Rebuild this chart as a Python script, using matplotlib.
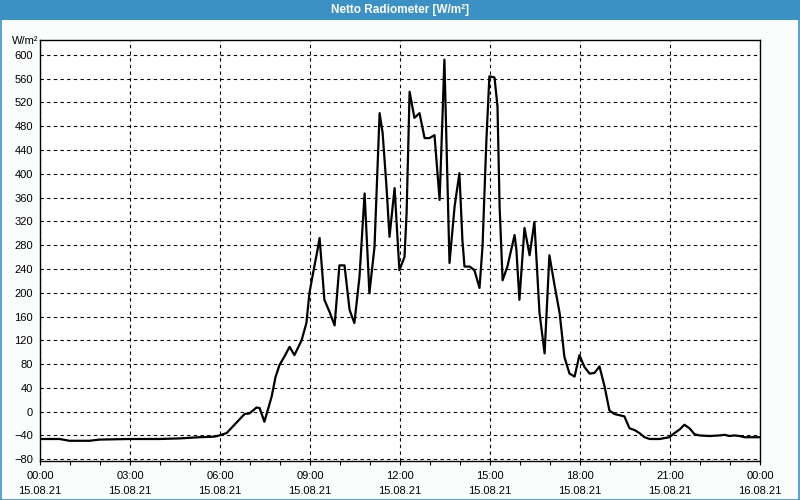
import numpy as np
import matplotlib
matplotlib.use("Agg")
import matplotlib.pyplot as plt
from matplotlib.patches import Rectangle
from matplotlib.ticker import MultipleLocator

# Netto Radiometer, 15.08.21 (hours since midnight, W/m²)
hours = [0.0, 0.65, 0.98, 1.65, 1.98, 2.98, 3.98, 4.65, 5.32, 5.82, 5.98,
         6.22, 6.82, 6.98, 7.22, 7.32, 7.48, 7.72, 7.85, 7.98, 8.15, 8.32,
         8.48, 8.72, 8.88, 8.98, 9.08, 9.25, 9.32, 9.48, 9.65, 9.82, 9.98,
         10.15, 10.32, 10.48, 10.65, 10.82, 10.98, 11.15, 11.32, 11.42, 11.55,
         11.65, 11.82, 11.92, 11.98, 12.15, 12.22, 12.32, 12.48, 12.65, 12.82,
         12.98, 13.15, 13.25, 13.32, 13.42, 13.48, 13.58, 13.65, 13.82, 13.98,
         14.08, 14.15, 14.32, 14.48, 14.65, 14.75, 14.88, 14.98, 15.15, 15.25,
         15.32, 15.42, 15.58, 15.82, 15.88, 15.98, 16.15, 16.32, 16.48, 16.65,
         16.82, 16.98, 17.15, 17.32, 17.48, 17.65, 17.82, 17.98, 18.15, 18.32,
         18.48, 18.65, 18.82, 18.98, 19.15, 19.48, 19.65, 19.82, 19.98, 20.15,
         20.32, 20.65, 20.98, 21.15, 21.32, 21.48, 21.65, 21.82, 21.98, 22.32,
         22.65, 22.82, 22.98, 23.15, 23.32, 23.48, 23.82, 23.98]
values = [-46, -46, -49, -49, -47, -46, -46, -45, -43, -42, -40,
          -36, -4, -3, 7, 6, -17, 25, 58, 78, 93, 109,
          95, 120, 149, 199, 227, 272, 292, 188, 168, 145, 246,
          246, 171, 149, 227, 367, 199, 277, 502, 469, 378,
          294, 376, 289, 238, 260, 334, 538, 494, 502, 460,
          460, 465, 401, 356, 502, 592, 390, 250, 345, 401,
          289, 244, 244, 238, 208, 277, 457, 564, 562, 513,
          345, 221, 244, 297, 272, 188, 309, 263, 319, 166,
          98, 263, 213, 166, 92, 64, 59, 95, 75, 64,
          65, 76, 42, 2, -4, -8, -28, -31, -36, -43,
          -46, -46, -43, -36, -30, -22, -28, -38, -40, -41,
          -40, -39, -41, -40, -41, -43, -43, -43]

tick_hours = [0, 3, 6, 9, 12, 15, 18, 21, 24]
tick_labels = ["00:00\n15.08.21", "03:00\n15.08.21", "06:00\n15.08.21",
               "09:00\n15.08.21", "12:00\n15.08.21", "15:00\n15.08.21",
               "18:00\n15.08.21", "21:00\n15.08.21", "00:00\n16.08.21"]

plt.rcParams['font.family'] = ['Liberation Sans', 'DejaVu Sans']

bg = "#fafdfb"
blue = "#3c91c4"

fig = plt.figure(figsize=(8, 5), dpi=100, facecolor=bg)
ax = fig.add_axes([0.05, 0.078, 0.90, 0.842])
ax.set_facecolor("white")

ax.plot(hours, values, color="black", linewidth=1.6)

ax.set_xlim(0, 24)
ax.set_ylim(-83, 625)
ax.set_xticks(tick_hours)
ax.set_xticklabels(tick_labels, fontsize=8, linespacing=1.7)
ax.xaxis.set_minor_locator(MultipleLocator(1))
ax.set_yticks(np.arange(-80, 601, 40))
ax.tick_params(axis="y", labelsize=8, length=0, pad=5)
ax.tick_params(axis="x", which="major", length=3, pad=4, width=0.8)
ax.tick_params(axis="x", which="minor", length=3, width=0.8)

ax.grid(True, color="black", linestyle=(0, (3, 3)), linewidth=0.8)
for s in ax.spines.values():
    s.set_linewidth(1.0)

fig.text(0.048, 0.907, "W/m²", ha="right", va="bottom", fontsize=8)

# title bar and window border
fig.patches.append(Rectangle((0, 0.96), 1, 0.04, transform=fig.transFigure,
                             facecolor=blue, edgecolor="none"))
fig.patches.append(Rectangle((0.001, 0.001), 0.998, 0.998, transform=fig.transFigure,
                             facecolor="none", edgecolor=blue, linewidth=1.2))
fig.text(0.5, 0.981, "Netto Radiometer [W/m²]", ha="center", va="center",
         color="white", fontsize=8.5, fontweight="bold")

fig.savefig("out.png", dpi=100, facecolor=bg)
